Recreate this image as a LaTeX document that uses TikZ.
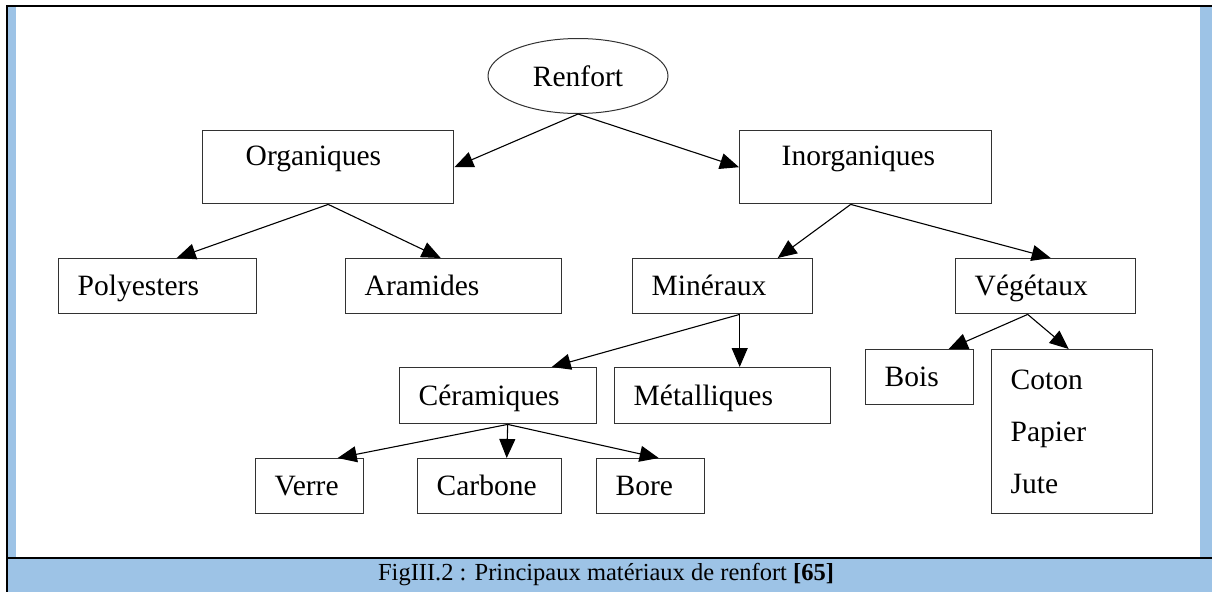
\documentclass[tikz,border=0pt]{standalone}
\usepackage{fontspec}
\setmainfont{Liberation Serif}
\usetikzlibrary{arrows.meta,shapes.geometric}
\definecolor{bandeau}{RGB}{157,195,230}
\definecolor{trait}{RGB}{50,50,50}
\begin{document}
\begin{tikzpicture}[x=1pt,y=-1pt,
  every node/.style={font=\fontsize{29.5}{35}\selectfont},
  boite/.style={draw=trait,line width=1.4pt,rectangle,anchor=north west,align=left,inner xsep=19pt,inner ysep=0pt},
  ligne/.style={boite,text height=20pt,text depth=1pt},
  fleche/.style={-{Triangle[length=19pt,width=16pt]},line width=1.1pt,draw=black}]
\useasboundingbox (0,0) rectangle (1212,592);
\fill[white] (0,0) rectangle (1212,592);
\fill[bandeau] (7,7) rectangle (16,557);
\fill[bandeau] (1200,7) rectangle (1212,557);
\fill[bandeau] (7,558) rectangle (1212,592);
\draw[line width=2pt] (6,6) -- (1212,6);
\draw[line width=2pt] (7,5) -- (7,592);
\draw[line width=2pt] (7,557.5) -- (1212,557.5);
\node[font=\fontsize{24.5}{28}\selectfont] (legende) at (606,575) {FigIII.2 : Principaux matériaux de renfort \textbf{[65]}};
\node[draw=trait,line width=1pt,ellipse,minimum width=180pt,minimum height=75pt,inner sep=0pt] (ren) at (578,76) {Renfort};
\node[ligne,text depth=23pt,minimum height=73pt,inner xsep=43pt,text width=165pt] (org) at (202,130) {Organiques};
\node[ligne,text depth=23pt,minimum height=73pt,inner xsep=42pt,text width=168pt] (inorg) at (739,130) {Inorganiques};
\node[ligne,text width=160pt,minimum height=55pt] (poly) at (58,258) {Polyesters};
\node[ligne,text width=178pt,minimum height=55pt] (ara) at (345,258) {Aramides};
\node[ligne,text width=142pt,minimum height=55pt] (min) at (632,258) {Minéraux};
\node[ligne,text width=142pt,minimum height=55pt] (veg) at (955,258) {Végétaux};
\node[ligne,text width=159pt,minimum height=56pt] (cer) at (399,367) {Céramiques};
\node[ligne,text width=178pt,minimum height=56pt] (met) at (614,367) {Métalliques};
\node[ligne,text width=70pt,minimum height=55pt] (bois) at (865,349) {Bois};
\node[boite,text width=123pt,minimum height=164pt,font=\fontsize{29.5}{52}\selectfont] (coton) at (991,349) {Coton\\Papier\\Jute};
\node[ligne,text width=70pt,minimum height=55pt] (verre) at (255,458) {Verre};
\node[ligne,text width=106pt,minimum height=55pt] (carb) at (417,458) {Carbone};
\node[ligne,text width=70pt,minimum height=55pt] (bore) at (596,458) {Bore};
\draw[fleche] (ren.south) -- (org.east);
\draw[fleche] (ren.south) -- (inorg.west);
\draw[fleche] (org.south) -- ([xshift=19pt]poly.north);
\draw[fleche] (org.south) -- ([xshift=-13pt]ara.north);
\draw[fleche] ([xshift=-15pt]inorg.south) -- ([xshift=55pt]min.north);
\draw[fleche] ([xshift=-15pt]inorg.south) -- ([xshift=5pt]veg.north);
\draw[fleche] ([xshift=17pt]min.south) -- ([xshift=53.5pt]cer.north);
\draw[fleche] ([xshift=17pt]min.south) -- ([xshift=17pt]met.north);
\draw[fleche] ([xshift=-18pt]veg.south) -- ([xshift=29pt]bois.north);
\draw[fleche] ([xshift=-18pt]veg.south) -- ([xshift=-3.5pt]coton.north);
\draw[fleche] ([xshift=9.5pt]cer.south) -- ([xshift=28pt]verre.north);
\draw[fleche] ([xshift=9.5pt]cer.south) -- ([xshift=17pt]carb.north);
\draw[fleche] ([xshift=9.5pt]cer.south) -- ([xshift=8pt]bore.north);
\end{tikzpicture}
\end{document}
